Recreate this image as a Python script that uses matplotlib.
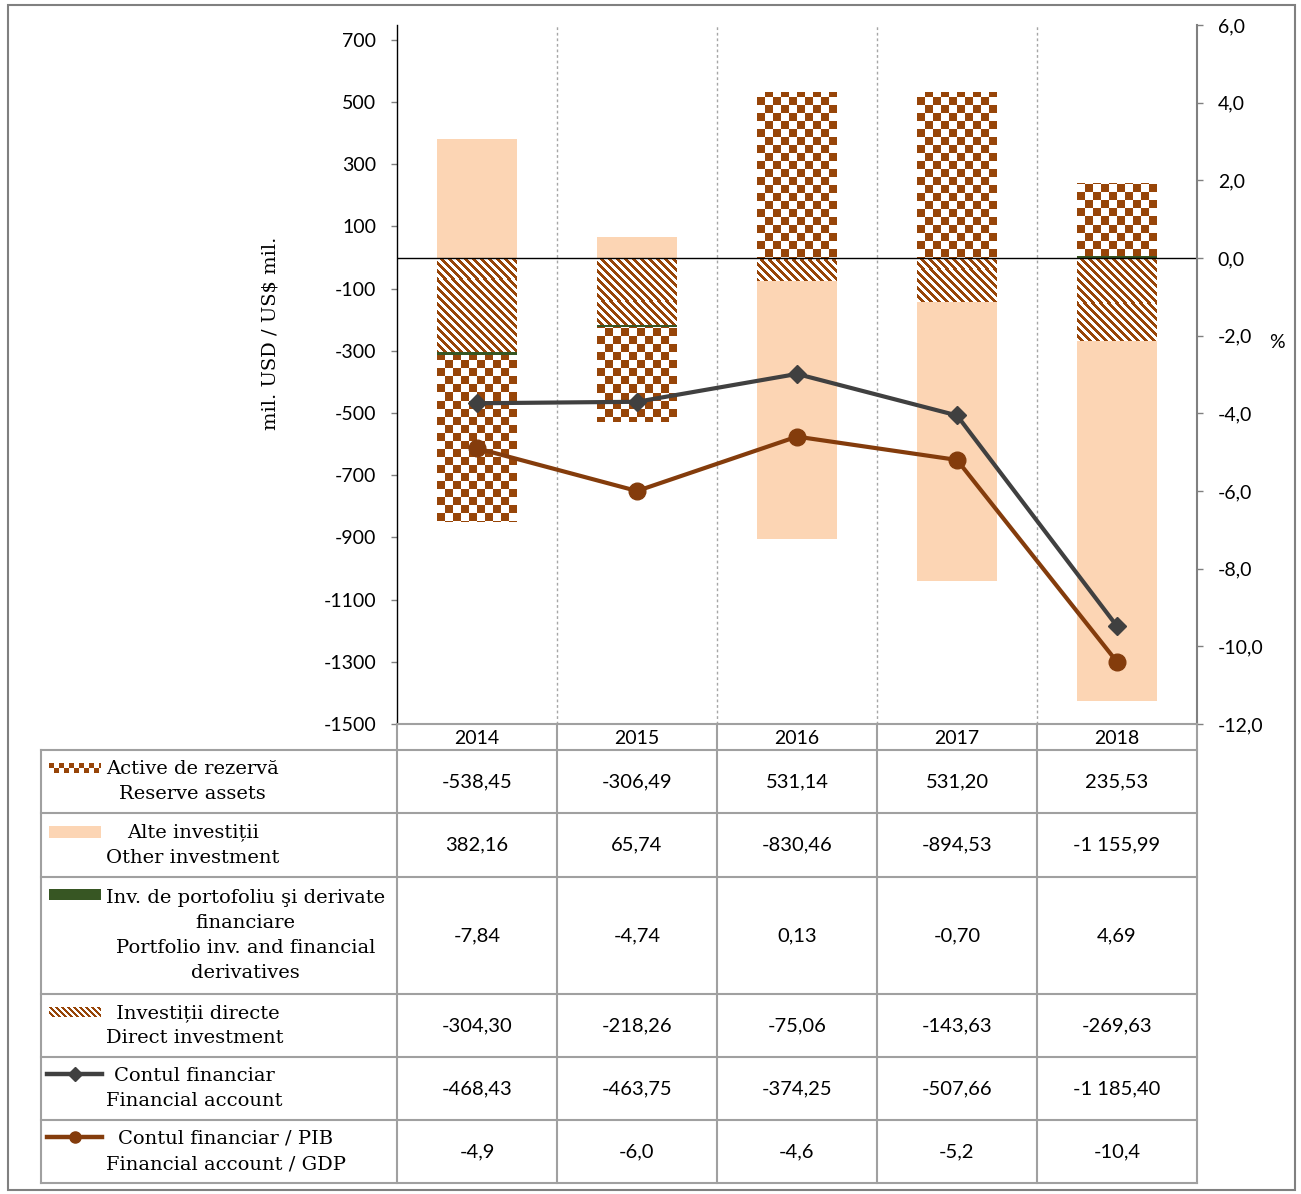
import numpy as np
import matplotlib
matplotlib.use('Agg')
import matplotlib.pyplot as plt
from matplotlib.colors import to_rgba
from matplotlib.lines import Line2D
from matplotlib.patches import Rectangle
from matplotlib.ticker import FixedLocator, FuncFormatter

plt.rcParams['axes.unicode_minus'] = False

# ---- data (mil. USD) ----
years = ['2014', '2015', '2016', '2017', '2018']
reserve = [-538.45, -306.49, 531.14, 531.20, 235.53]
other = [382.16, 65.74, -830.46, -894.53, -1155.99]
portfolio = [-7.84, -4.74, 0.13, -0.70, 4.69]
direct = [-304.30, -218.26, -75.06, -143.63, -269.63]
fin_account = [-468.43, -463.75, -374.25, -507.66, -1185.40]
fin_gdp = [-4.9, -6.0, -4.6, -5.2, -10.4]   # %

row_labels = ['Active de rezervă\nReserve assets',
              'Alte investiții\nOther investment',
              'Inv. de portofoliu şi derivate\nfinanciare\nPortfolio inv. and financial\nderivatives',
              ' Investiții directe\nDirect investment',
              'Contul financiar\nFinancial account',
              'Contul financiar / PIB\nFinancial account / GDP']

# colours
BROWN = '#974508'
PEACH = '#FCD5B4'
GREEN = '#375623'
DGRAY = '#404040'
LINEBROWN = '#843C0C'
TGRAY = '#A0A0A0'

SANS = 'Lato'
SERIF = 'DejaVu Serif'

W, H = 1301, 1194
fig = plt.figure(figsize=(W / 100, H / 100), dpi=100)


def fx(px):
    return px / W


def fy(py):
    return 1 - py / H


def pattern(kind, color, w, h, cell=8):
    # pixel pattern used to fill bars (Excel style checker / stripes)
    yy, xx = np.mgrid[0:h, 0:w]
    if kind == 'checker':
        m = ((xx // cell) + (yy // cell)) % 2 == 0
    else:
        m = ((xx - yy) % cell) < cell / 2
    img = np.ones((h, w, 4))
    img[m] = to_rgba(color)
    return img


L, R, T, B = 397, 1197, 25, 724
YMIN, YMAX = -1500, 748
ax = fig.add_axes([fx(L), fy(B), fx(R - L), (B - T) / H])
ax.set_xlim(-0.5, 4.5)
ax.set_ylim(YMIN, YMAX)

x = np.arange(len(years))
pos = np.zeros(len(years))
neg = np.zeros(len(years))
series = [(direct, 'stripes'), (portfolio, GREEN), (reserve, 'checker'), (other, PEACH)]
for vals, kind in series:
    v = np.array(vals)
    bottom = np.where(v >= 0, pos, neg)
    if kind in ('stripes', 'checker'):
        bars = ax.bar(x, v, 0.5, bottom=bottom, facecolor='none', linewidth=0, zorder=2)
        img = pattern(kind, BROWN, R - L, B - T)
        for p in bars:
            im = ax.imshow(img, extent=(-0.5, 4.5, YMIN, YMAX), aspect='auto',
                           interpolation='nearest', zorder=2)
            im.set_clip_path(p)
    else:
        ax.bar(x, v, 0.5, bottom=bottom, color=kind, linewidth=0, zorder=2)
    pos += np.where(v >= 0, v, 0)
    neg += np.where(v < 0, v, 0)

ax.set_xlim(-0.5, 4.5)
ax.set_ylim(YMIN, YMAX)
ax.axhline(0, color='black', lw=1, zorder=3)
ax.vlines([0.5, 1.5, 2.5, 3.5], YMIN, YMAX, colors='#A6A6A6',
          linestyles=(0, (2, 2)), lw=1, zorder=1)

ax.plot(x, fin_account, color=DGRAY, lw=3, marker='D', ms=9, zorder=5)

for s in ['top', 'right']:
    ax.spines[s].set_visible(False)
ax.spines['left'].set_color('black')
ax.spines['left'].set_linewidth(1)
ax.spines['bottom'].set_color(TGRAY)
ax.spines['bottom'].set_linewidth(1.5)

ax.yaxis.set_major_locator(FixedLocator(np.arange(-1500, 701, 200)))
ax.yaxis.set_major_formatter(FuncFormatter(lambda v, p: f'{v:.0f}'))
ax.tick_params(axis='y', direction='out', length=4, color='#808080', width=1,
               pad=11, labelsize=14)
ax.set_xticks(x, years)
ax.tick_params(axis='x', length=0, pad=4, labelsize=14)
for t in ax.get_xticklabels() + ax.get_yticklabels():
    t.set_fontfamily(SANS)

ax2 = ax.twinx()
ax2.set_ylim(-12, 6)
ax2.plot(x, fin_gdp, color=LINEBROWN, lw=3, marker='o', ms=12, zorder=5)
for s in ['top', 'left', 'bottom']:
    ax2.spines[s].set_visible(False)
ax2.spines['right'].set_color('#808080')
ax2.spines['right'].set_linewidth(1.5)
ax2.yaxis.set_major_locator(FixedLocator(np.arange(-12, 6.1, 2)))
ax2.yaxis.set_major_formatter(FuncFormatter(lambda v, p: f'{v:.1f}'.replace('.', ',')))
ax2.tick_params(axis='y', direction='out', length=4, color='#808080', width=1,
                pad=11, labelsize=14)
for t in ax2.get_yticklabels():
    t.set_fontfamily(SANS)

fig.text(fx(270), fy(333), 'mil. USD / US$ mil.', rotation=90, ha='center', va='center',
         family=SERIF, fontsize=14)
fig.text(fx(1277), fy(342), '%', ha='center', va='center', family=SANS, fontsize=14)

# ---- data table ----
rows_y = [750, 813, 877, 994, 1057, 1120, 1183]
cols_x = [397, 557, 717, 877, 1037, 1197]


def hline(y, x0, x1):
    fig.add_artist(Line2D([fx(x0), fx(x1)], [fy(y), fy(y)], color=TGRAY, lw=1.5))


def vline(xp, y0, y1):
    fig.add_artist(Line2D([fx(xp), fx(xp)], [fy(y0), fy(y1)], color=TGRAY, lw=1.5))


for yv in rows_y:
    hline(yv, 41, 1197)
vline(41, 750, 1183)
for xv in cols_x:
    vline(xv, 724, 1183)


def fmt(v, d=2):
    return f'{v:,.{d}f}'.replace(',', ' ').replace('.', ',')


table_rows = [reserve, other, portfolio, direct, fin_account, fin_gdp]
for i, (vals, lab) in enumerate(zip(table_rows, row_labels)):
    yc = (rows_y[i] + rows_y[i + 1]) / 2
    fig.text(fx(106), fy(yc), lab, ha='left', va='center', multialignment='center',
             family=SERIF, fontsize=14, linespacing=1.52)
    for j, v in enumerate(vals):
        xc = (cols_x[j] + cols_x[j + 1]) / 2
        fig.text(fx(xc), fy(yc), fmt(v, 1 if i == 5 else 2), ha='center', va='center',
                 family=SANS, fontsize=14.5)

# legend keys inside the table
def key_image(kind, x0, y0, w, h, cell):
    kax = fig.add_axes([fx(x0), fy(y0 + h), w / W, h / H])
    kax.imshow(pattern(kind, BROWN, w, h, cell), aspect='auto', interpolation='nearest')
    kax.axis('off')


key_image('checker', 49, 763, 52, 10, 5)
fig.add_artist(Rectangle((fx(49), fy(838)), 52 / W, 12 / H, color=PEACH, lw=0))
fig.add_artist(Rectangle((fx(49), fy(900)), 52 / W, 11 / H, color=GREEN, lw=0))
key_image('stripes', 49, 1007, 52, 10, 6)
fig.add_artist(Line2D([fx(47), fx(102)], [fy(1074), fy(1074)], color=DGRAY, lw=3.2))
fig.add_artist(Line2D([fx(75)], [fy(1074)], color=DGRAY, marker='D', ms=7))
fig.add_artist(Line2D([fx(47), fx(102)], [fy(1137), fy(1137)], color=LINEBROWN, lw=3.2))
fig.add_artist(Line2D([fx(75)], [fy(1137)], color=LINEBROWN, marker='o', ms=8))

# outer frame
fig.add_artist(Rectangle((fx(8), fy(1190)), 1287 / W, 1185 / H, fill=False,
                         edgecolor='#808080', lw=1.5))

fig.savefig('out.png', dpi=100)
